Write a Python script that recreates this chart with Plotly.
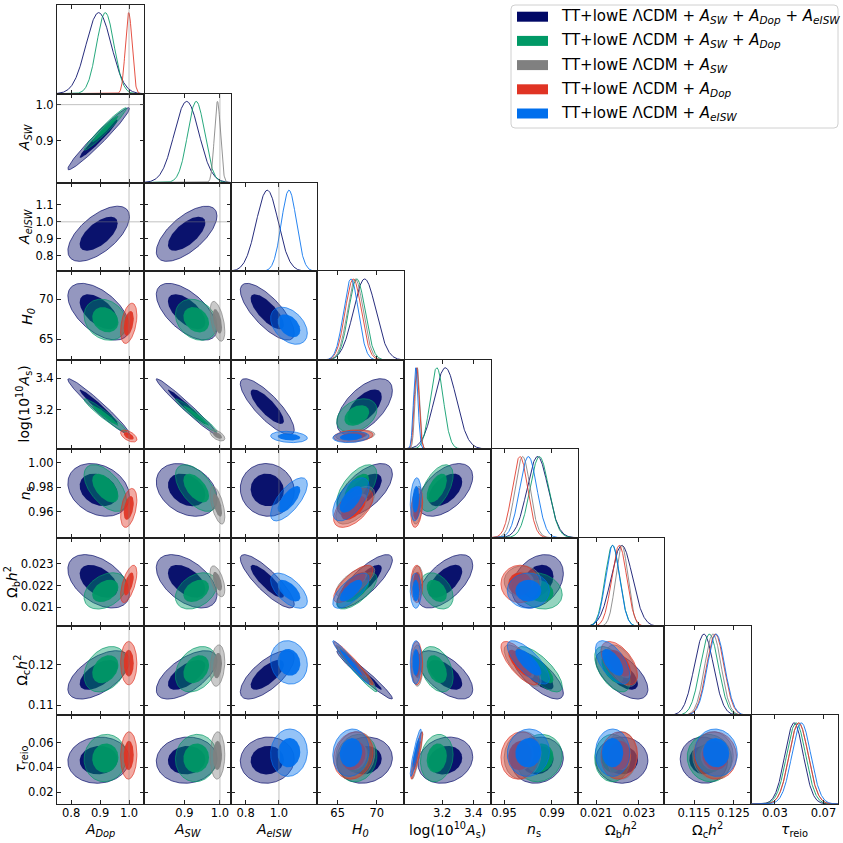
import numpy as np
import plotly.graph_objects as go

# ---------------- parameters ----------------
PARAM_LABELS = [
    "<i>A<sub>Dop</sub></i>",
    "<i>A<sub>SW</sub></i>",
    "<i>A<sub>eISW</sub></i>",
    "<i>H<sub>0</sub></i>",
    "log(10<sup>10</sup><i>A</i><sub>s</sub>)",
    "<i>n</i><sub>s</sub>",
    "Ω<sub>b</sub><i>h</i><sup>2</sup>",
    "Ω<sub>c</sub><i>h</i><sup>2</sup>",
    "<i>τ</i><sub>reio</sub>",
]
PARAM_RANGES = [
    [0.751, 1.051],
    [0.785, 1.030],
    [0.71, 1.23],
    [62.4, 73.5],
    [2.955, 3.513],
    [0.939, 1.0115],
    [0.02013, 0.02420],
    [0.1075, 0.1295],
    [0.0105, 0.082],
]
X_TICKS = [
    [0.8, 0.9, 1.0], [0.9, 1.0], [0.8, 1.0], [65, 70], [3.2, 3.4],
    [0.95, 0.99], [0.021, 0.023], [0.115, 0.125], [0.03, 0.07],
]
X_TICKTEXT = [
    ["0.8", "0.9", "1.0"], ["0.9", "1.0"], ["0.8", "1.0"], ["65", "70"], ["3.2", "3.4"],
    ["0.95", "0.99"], ["0.021", "0.023"], ["0.115", "0.125"], ["0.03", "0.07"],
]
Y_TICKS = [
    [], [0.9, 1.0], [0.8, 0.9, 1.0, 1.1], [65, 70], [3.2, 3.4],
    [0.96, 0.98, 1.00], [0.021, 0.022, 0.023], [0.11, 0.12], [0.02, 0.04, 0.06],
]
Y_TICKTEXT = [
    [], ["0.9", "1.0"], ["0.8", "0.9", "1.0", "1.1"], ["65", "70"], ["3.2", "3.4"],
    ["0.96", "0.98", "1.00"], ["0.021", "0.022", "0.023"], ["0.11", "0.12"], ["0.02", "0.04", "0.06"],
]
REFERENCE_VALUE = [1.0, 1.0, 1.0, None, None, None, None, None, None]

# ---------------- chains ----------------
CHAIN_NAMES = [
    "TT+lowE ΛCDM + <i>A<sub>SW</sub></i> + <i>A<sub>Dop</sub></i> + <i>A<sub>eISW</sub></i>",
    "TT+lowE ΛCDM + <i>A<sub>SW</sub></i> + <i>A<sub>Dop</sub></i>",
    "TT+lowE ΛCDM + <i>A<sub>SW</sub></i>",
    "TT+lowE ΛCDM + <i>A<sub>Dop</sub></i>",
    "TT+lowE ΛCDM + <i>A<sub>eISW</sub></i>",
]
CHAIN_COLORS = [(0, 8, 102), (0, 153, 102), (128, 128, 128), (224, 52, 36), (0, 111, 237)]

MEAN_NAVY = [0.895, 0.906, 0.93, 68.45, 3.220, 0.978, 0.02220, 0.1175, 0.0458]
SIGMA_NAVY = [0.0435, 0.035, 0.066, 1.45, 0.072, 0.0088, 0.00050, 0.00245, 0.0076]
MEAN_GREEN = [0.918, 0.933, None, 67.45, 3.165, 0.9795, 0.02176, 0.1189, 0.0475]
SIGMA_GREEN = [0.030, 0.024, None, 1.05, 0.043, 0.0078, 0.00034, 0.0023, 0.0078]
MEAN_GRAY = [None, 0.993, None, 67.25, 3.040, 0.9655, 0.02220, 0.1198, 0.0496]
SIGMA_GRAY = [None, 0.0085, None, 1.02, 0.0145, 0.0063, 0.00029, 0.0021, 0.0078]
MEAN_RED = [0.999, None, None, 67.0, 3.036, 0.9633, 0.02208, 0.1204, 0.0496]
SIGMA_RED = [0.0115, None, None, 1.03, 0.0155, 0.0065, 0.00035, 0.0022, 0.0078]
MEAN_BLUE = [None, None, 1.06, 66.7, 3.030, 0.9703, 0.02177, 0.1206, 0.0518]
SIGMA_BLUE = [None, None, 0.045, 0.95, 0.0145, 0.0072, 0.00033, 0.0022, 0.0078]

# lower-triangular correlation rows: CORR[i][j] = rho(param i, param j), j < i
CORR_NAVY = [
    [],
    [0.97],
    [0.62, 0.65],
    [-0.55, -0.60, -0.75],
    [-0.97, -0.98, -0.82, 0.58],
    [-0.25, -0.30, -0.05, 0.60, 0.50],
    [-0.45, -0.50, -0.85, 0.80, 0.60, 0.30],
    [0.58, 0.62, 0.70, -0.97, -0.60, -0.75, -0.60],
    [0.05, 0.05, 0.05, 0.10, 0.15, 0.10, 0.00, -0.05],
]
CORR_GREEN = [
    [],
    [0.97],
    [None, None],
    [-0.20, -0.25, None],
    [-0.96, -0.97, None, 0.35],
    [-0.55, -0.55, None, 0.60, 0.55],
    [0.35, 0.35, None, 0.70, -0.35, -0.20],
    [0.30, 0.30, None, -0.97, -0.35, -0.75, -0.55],
    [0.05, 0.05, None, 0.10, 0.15, 0.10, 0.00, -0.05],
]
CORR_GRAY = [
    [],
    [None],
    [None, None],
    [None, -0.50, None],
    [None, -0.55, None, 0.20],
    [None, -0.60, None, 0.60, 0.30],
    [None, -0.55, None, 0.70, 0.10, 0.00],
    [None, 0.20, None, -0.97, 0.00, -0.75, -0.55],
    [None, 0.05, None, 0.10, 0.90, 0.10, 0.00, 0.00],
]
CORR_RED = [
    [],
    [None],
    [None, None],
    [0.40, None, None],
    [-0.55, None, None, 0.20],
    [0.40, None, None, 0.55, 0.30],
    [0.60, None, None, 0.75, 0.00, 0.00],
    [0.00, None, None, -0.97, 0.00, -0.75, -0.55],
    [0.05, None, None, 0.15, 0.90, 0.10, 0.05, -0.05],
]
CORR_BLUE = [
    [],
    [None],
    [None, None],
    [None, None, -0.40],
    [None, None, -0.20, 0.15],
    [None, None, 0.70, 0.60, 0.20],
    [None, None, -0.60, 0.70, 0.00, 0.00],
    [None, None, -0.10, -0.97, 0.05, -0.75, -0.60],
    [None, None, 0.05, 0.10, 0.90, 0.05, 0.00, -0.05],
]

MEANS = [MEAN_NAVY, MEAN_GREEN, MEAN_GRAY, MEAN_RED, MEAN_BLUE]
SIGMAS = [SIGMA_NAVY, SIGMA_GREEN, SIGMA_GRAY, SIGMA_RED, SIGMA_BLUE]
CORRS = [CORR_NAVY, CORR_GREEN, CORR_GRAY, CORR_RED, CORR_BLUE]

# ---------------- layout geometry ----------------
W = H = 843
LEFT, RIGHT, TOP, BOTTOM = 57.0, 838.0, 5.0, 804.0
N = 9
PW = (RIGHT - LEFT) / N
PH = (BOTTOM - TOP) / N
FONT = "DejaVu Sans"
FRAME = "#222222"

R95 = np.sqrt(-2 * np.log(0.05))
R68 = np.sqrt(-2 * np.log(0.32))


def rgba(c, a):
    return f"rgba({c[0]},{c[1]},{c[2]},{a})"


def xdom(j):
    return [(LEFT + j * PW) / W, (LEFT + (j + 1) * PW) / W]


def ydom(i):
    return [1 - (TOP + (i + 1) * PH) / H, 1 - (TOP + i * PH) / H]


fig = go.Figure()
layout = {}
shapes = []
annotations = []

panel_id = {}
k = 0
for i in range(N):
    for j in range(i + 1):
        k += 1
        panel_id[(i, j)] = k


def axnames(k):
    s = "" if k == 1 else str(k)
    return "xaxis" + s, "yaxis" + s, "x" + s, "y" + s


t = np.linspace(0, 2 * np.pi, 160)

for i in range(N):
    for j in range(i + 1):
        k = panel_id[(i, j)]
        xa, ya, xr, yr = axnames(k)
        layout[xa] = dict(
            domain=xdom(j), anchor=yr, range=PARAM_RANGES[j],
            tickvals=X_TICKS[j], ticktext=X_TICKTEXT[j],
            showticklabels=(i == N - 1), ticks="inside", ticklen=4, tickwidth=1,
            tickcolor=FRAME, showline=True, linecolor=FRAME, linewidth=1,
            mirror="ticks", showgrid=False, zeroline=False, ticklabelstandoff=-2,
            tickfont=dict(family=FONT, size=11.5, color="black"),
        )
        if i == j:
            layout[ya] = dict(
                domain=ydom(i), anchor=xr, range=[0, 1.094], tickvals=[],
                showticklabels=False, showline=True, linecolor=FRAME, linewidth=1,
                mirror=True, showgrid=False, zeroline=False,
            )
        else:
            layout[ya] = dict(
                domain=ydom(i), anchor=xr, range=PARAM_RANGES[i],
                tickvals=Y_TICKS[i], ticktext=Y_TICKTEXT[i],
                showticklabels=(j == 0), ticks="inside", ticklen=4, tickwidth=1,
                tickcolor=FRAME, showline=True, linecolor=FRAME, linewidth=1,
                mirror="ticks", showgrid=False, zeroline=False,
                tickfont=dict(family=FONT, size=11.5, color="black"),
            )

        if i == j:
            xs = np.linspace(PARAM_RANGES[j][0], PARAM_RANGES[j][1], 400)
            for c in range(len(MEANS)):
                m, s = MEANS[c][j], SIGMAS[c][j]
                if m is None:
                    continue
                ys = np.exp(-0.5 * ((xs - m) / s) ** 2)
                fig.add_trace(go.Scatter(
                    x=xs, y=ys, mode="lines", xaxis=xr, yaxis=yr,
                    line=dict(color=rgba(CHAIN_COLORS[c], 0.85), width=1),
                    hoverinfo="skip", showlegend=False,
                ))
        else:
            for c in range(len(MEANS)):
                mx, my = MEANS[c][j], MEANS[c][i]
                if mx is None or my is None:
                    continue
                sx, sy = SIGMAS[c][j], SIGMAS[c][i]
                rho = CORRS[c][i][j]
                cov = np.array([[sx * sx, rho * sx * sy], [rho * sx * sy, sy * sy]])
                L = np.linalg.cholesky(cov)
                unit = np.vstack([np.cos(t), np.sin(t)])
                col = CHAIN_COLORS[c]
                for r, fa, lw, la in [(R95, 0.42, 0.8, 0.85), (R68, 0.93, 0, 0)]:
                    pts = L @ (r * unit)
                    fig.add_trace(go.Scatter(
                        x=mx + pts[0], y=my + pts[1], mode="lines", fill="toself",
                        fillcolor=rgba(col, fa), xaxis=xr, yaxis=yr,
                        line=dict(color=rgba(col, la), width=lw),
                        hoverinfo="skip", showlegend=False,
                    ))

        # reference markers at A = 1
        if REFERENCE_VALUE[j] is not None:
            shapes.append(dict(
                type="line", xref=xr, yref=yr + " domain",
                x0=REFERENCE_VALUE[j], x1=REFERENCE_VALUE[j], y0=0, y1=1,
                line=dict(color="rgba(128,128,128,0.7)", width=0.7), layer="above",
            ))
        if i != j and REFERENCE_VALUE[i] is not None:
            shapes.append(dict(
                type="line", xref=xr + " domain", yref=yr,
                x0=0, x1=1, y0=REFERENCE_VALUE[i], y1=REFERENCE_VALUE[i],
                line=dict(color="rgba(128,128,128,0.7)", width=0.7), layer="above",
            ))

# ---------------- axis labels ----------------
for j in range(N):
    annotations.append(dict(
        text=PARAM_LABELS[j], xref="paper", yref="paper",
        x=(LEFT + (j + 0.5) * PW) / W, y=1 - 830 / H,
        xanchor="center", yanchor="middle", showarrow=False,
        font=dict(family=FONT, size=14, color="black"),
    ))
YLABEL_X = [None, 25, 25, 28, 25, 26, 12, 22, 21]
for i in range(1, N):
    annotations.append(dict(
        text=PARAM_LABELS[i], xref="paper", yref="paper",
        x=YLABEL_X[i] / W, y=1 - (TOP + (i + 0.5) * PH) / H,
        xanchor="center", yanchor="middle", textangle=-90, showarrow=False,
        font=dict(family=FONT, size=14, color="black"),
    ))

# ---------------- legend box ----------------
LEG_X0, LEG_X1, LEG_Y0, LEG_Y1 = 511, 838, 5, 128
rr = 4
px = lambda v: v / W
py = lambda v: 1 - v / H
path = (
    f"M {px(LEG_X0 + rr)},{py(LEG_Y0)} L {px(LEG_X1 - rr)},{py(LEG_Y0)} "
    f"Q {px(LEG_X1)},{py(LEG_Y0)} {px(LEG_X1)},{py(LEG_Y0 + rr)} "
    f"L {px(LEG_X1)},{py(LEG_Y1 - rr)} Q {px(LEG_X1)},{py(LEG_Y1)} {px(LEG_X1 - rr)},{py(LEG_Y1)} "
    f"L {px(LEG_X0 + rr)},{py(LEG_Y1)} Q {px(LEG_X0)},{py(LEG_Y1)} {px(LEG_X0)},{py(LEG_Y1 - rr)} "
    f"L {px(LEG_X0)},{py(LEG_Y0 + rr)} Q {px(LEG_X0)},{py(LEG_Y0)} {px(LEG_X0 + rr)},{py(LEG_Y0)} Z"
)
shapes.append(dict(type="path", xref="paper", yref="paper", path=path,
                   line=dict(color="#d0d0d0", width=1), fillcolor="white", layer="above"))
for n, (name, col) in enumerate(zip(CHAIN_NAMES, CHAIN_COLORS)):
    yc = 16.7 + 24.2 * n
    shapes.append(dict(type="rect", xref="paper", yref="paper",
                       x0=px(517), x1=px(548), y0=py(yc - 5), y1=py(yc + 5),
                       line=dict(width=0), fillcolor=rgba(col, 1), layer="above"))
    annotations.append(dict(
        text=name, xref="paper", yref="paper", x=px(559), y=py(yc),
        xanchor="left", yanchor="middle", showarrow=False,
        font=dict(family=FONT, size=15, color="black"),
    ))

fig.update_layout(
    width=W, height=H, margin=dict(l=0, r=0, t=0, b=0),
    paper_bgcolor="white", plot_bgcolor="white", showlegend=False,
    shapes=shapes, annotations=annotations,
    font=dict(family=FONT),
    **layout,
)
fig.write_html(
    "out.html",
    config={"displayModeBar": False},
    post_script="document.body.style.margin='0';document.body.style.overflow='hidden';",
)
